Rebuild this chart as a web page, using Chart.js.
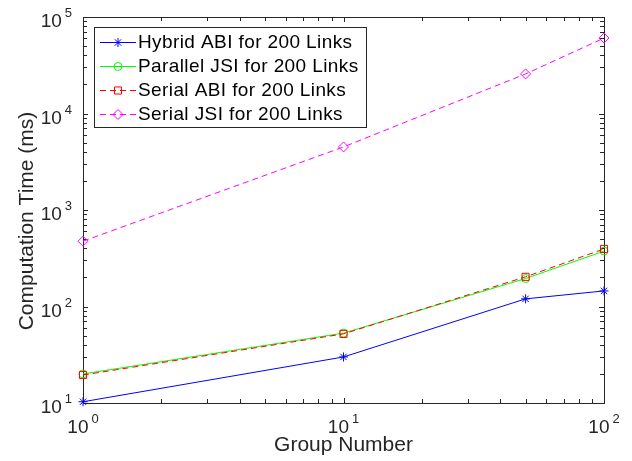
<!DOCTYPE html>
<html>
<head>
<meta charset="utf-8">
<script src="https://cdn.jsdelivr.net/npm/chart.js@4.4.0/dist/chart.umd.min.js"></script>
<style>
  html, body { margin: 0; padding: 0; background: #fff; }
</style>
</head>
<body>
<canvas id="myChart" width="632" height="461"></canvas>
<script>
// values (log-log plot)
let group_numbers = [1, 10, 50, 100];
let hybrid_abi = [10.3, 30, 120, 145];
let parallel_jsi = [20, 53, 195, 375];
let serial_abi = [19.5, 52, 203, 395];
let serial_jsi = [475, 4500, 25700, 60500];
let series_labels = ['Hybrid ABI for 200 Links', 'Parallel JSI for 200 Links', 'Serial ABI for 200 Links', 'Serial JSI for 200 Links'];
let x_ticks = [1, 10, 100];
let y_ticks = [10, 100, 1000, 10000, 100000];
let x_title = 'Group Number';
let y_title = 'Computation Time (ms)';

const FONT = "'Liberation Sans', Arial, sans-serif";
const AXIS_COLOR = '#262626';

function toPoints(values) {
      return group_numbers.map((g, i) => ({ x: g, y: values[i] }));
}

function series(label, values, color, style, radius, dash, order) {
      return {
            label: label,
            data: toPoints(values),
            borderColor: color,
            borderWidth: 1,
            borderDash: dash,
            pointStyle: style,
            pointRadius: radius,
            pointBorderColor: color,
            pointBackgroundColor: 'rgba(0,0,0,0)',
            pointBorderWidth: 1,
            tension: 0,
            clip: false,
            order: order
      };
}

// draws "10" with a raised exponent, anchored by align ('center' or 'right')
function drawPower(ctx, exp, x, y, align) {
      ctx.font = '19px ' + FONT;
      let wBase = ctx.measureText('10').width;
      ctx.font = '13px ' + FONT;
      let wExp = ctx.measureText(String(exp)).width;
      let gap = 3;
      let total = wBase + gap + wExp;
      let left = align === 'center' ? x - total / 2 : x - total;
      ctx.textAlign = 'left';
      ctx.textBaseline = 'alphabetic';
      ctx.font = '19px ' + FONT;
      ctx.fillText('10', left, y);
      ctx.font = '13px ' + FONT;
      ctx.fillText(String(exp), left + wBase + gap, y - 10);
}

const matlabAxes = {
      id: 'matlabAxes',
      beforeDatasetsDraw(chart) {
            const ctx = chart.ctx;
            const a = chart.chartArea;
            const xs = chart.scales.x, ys = chart.scales.y;
            ctx.save();
            ctx.strokeStyle = AXIS_COLOR;
            ctx.lineWidth = 1;
            ctx.strokeRect(Math.round(a.left) + 0.5, Math.round(a.top) + 0.5, Math.round(a.right - a.left), Math.round(a.bottom - a.top));

            ctx.beginPath();
            // x ticks, major and minor, on bottom and top
            for (let e = 0; e < 2; e++) {
                  for (let m = 1; m <= 10; m++) {
                        let v = m * Math.pow(10, e);
                        let len = (m === 1 || m === 10) ? 5 : 4;
                        let px = Math.round(xs.getPixelForValue(v)) + 0.5;
                        ctx.moveTo(px, a.bottom); ctx.lineTo(px, a.bottom - len);
                        ctx.moveTo(px, a.top); ctx.lineTo(px, a.top + len);
                  }
            }
            // y ticks, major and minor, on left and right
            for (let e = 1; e < 5; e++) {
                  for (let m = 1; m <= 10; m++) {
                        let v = m * Math.pow(10, e);
                        let len = (m === 1 || m === 10) ? 5 : 4;
                        let py = Math.round(ys.getPixelForValue(v)) + 0.5;
                        ctx.moveTo(a.left, py); ctx.lineTo(a.left + len, py);
                        ctx.moveTo(a.right, py); ctx.lineTo(a.right - len, py);
                  }
            }
            ctx.stroke();

            ctx.fillStyle = AXIS_COLOR;
            x_ticks.forEach(v => {
                  drawPower(ctx, Math.round(Math.log10(v)), xs.getPixelForValue(v), a.bottom + 30, 'center');
            });
            y_ticks.forEach(v => {
                  drawPower(ctx, Math.round(Math.log10(v)), a.left - 11, ys.getPixelForValue(v) + 10, 'right');
            });

            ctx.font = '21px ' + FONT;
            ctx.textAlign = 'center';
            ctx.textBaseline = 'alphabetic';
            ctx.fillText(x_title, (a.left + a.right) / 2, a.bottom + 48);

            ctx.translate(33, (a.top + a.bottom) / 2 + 11);
            ctx.rotate(-Math.PI / 2);
            ctx.fillText(y_title, 0, 0);
            ctx.restore();
      },
      afterDatasetsDraw(chart) {
            const ctx = chart.ctx;
            const sets = chart.data.datasets;
            ctx.save();
            ctx.font = '19px ' + FONT;
            ctx.letterSpacing = '0.4px';
            let maxW = 0;
            sets.forEach(d => { maxW = Math.max(maxW, ctx.measureText(d.label).width); });
            let bx = 94.5, by = 27.5;
            let bw = Math.round(138 + maxW + 7 - 94), bh = 100;
            ctx.fillStyle = '#ffffff';
            ctx.fillRect(bx, by, bw, bh);
            ctx.strokeStyle = AXIS_COLOR;
            ctx.lineWidth = 1;
            ctx.strokeRect(bx, by, bw, bh);

            sets.forEach((d, i) => {
                  let y = 42 + i * 24;
                  ctx.strokeStyle = d.borderColor;
                  ctx.lineWidth = 1;
                  ctx.setLineDash(d.borderDash || []);
                  ctx.beginPath();
                  ctx.moveTo(100, y + 0.5);
                  ctx.lineTo(136, y + 0.5);
                  ctx.stroke();
                  ctx.setLineDash([]);
                  ctx.fillStyle = 'rgba(0,0,0,0)';
                  Chart.helpers.drawPoint(ctx, {
                        pointStyle: d.pointStyle,
                        radius: d.pointRadius,
                        rotation: 0,
                        borderWidth: 1
                  }, 118, y + 0.5);
                  ctx.fillStyle = '#000000';
                  ctx.textAlign = 'left';
                  ctx.textBaseline = 'middle';
                  ctx.fillText(d.label, 138, y + 1);
            });
            ctx.restore();
      }
};

let ctx = document.getElementById('myChart').getContext('2d');
let myChart = new Chart(ctx, {
      type: 'line',
      data: {
            datasets: [
                  series(series_labels[0], hybrid_abi, '#0000ff', 'star', 4.5, [], 4),
                  series(series_labels[1], parallel_jsi, '#00ff00', 'circle', 4, [], 3),
                  series(series_labels[2], serial_abi, '#ff0000', 'rect', 5, [6, 4], 2),
                  series(series_labels[3], serial_jsi, '#ff00ff', 'rectRot', 5, [6, 4], 1)
            ]
      },
      options: {
            responsive: false,
            animation: false,
            layout: { padding: { left: 83, right: 28, top: 17, bottom: 58 } },
            plugins: { legend: { display: false }, tooltip: { enabled: false } },
            scales: {
                  x: { type: 'logarithmic', min: 1, max: 100, display: false },
                  y: { type: 'logarithmic', min: 10, max: 100000, display: false }
            }
      },
      plugins: [matlabAxes]
});
</script>
</body>
</html>
